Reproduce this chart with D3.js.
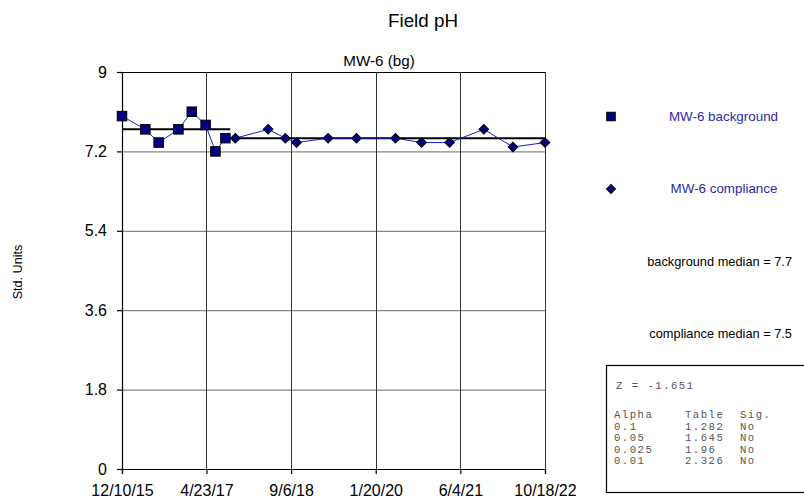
<!DOCTYPE html>
<html>
<head>
<meta charset="utf-8">
<script src="https://cdn.jsdelivr.net/npm/d3@7"></script>
<style>
  html, body { margin: 0; padding: 0; background: #fff; }
  svg { display: block; font-family: "Liberation Sans", Arial, sans-serif; }
</style>
</head>
<body>
<svg id="chart" width="804" height="501"></svg>
<script>
// Field pH at MW-6: background and compliance sampling events
const bgDates = ["2015-12-10", "2016-04-26", "2016-07-14", "2016-11-08", "2017-01-26", "2017-04-18", "2017-06-15", "2017-08-13"];
const bgValues = [8.0, 7.7, 7.4, 7.7, 8.1, 7.8, 7.2, 7.5];
const compDates = ["2017-10-11", "2018-04-23", "2018-08-03", "2018-10-08", "2019-04-13", "2019-09-28", "2020-05-16", "2020-10-17", "2021-04-01", "2021-10-21", "2022-04-11", "2022-10-18"];
const compValues = [7.5, 7.7, 7.5, 7.4, 7.5, 7.5, 7.5, 7.4, 7.4, 7.7, 7.3, 7.4];
const bgMedian = 7.7;
const compMedian = 7.5;
const medianBreak = "2017-09-11";
const xTickDates = ["2015-12-10", "2017-04-23", "2018-09-06", "2020-01-20", "2021-06-04", "2022-10-18"];
const yTicks = [0, 1.8, 3.6, 5.4, 7.2, 9];
const statsZ = "Z = -1.651";
const statsHeader = ["Alpha", "Table", "Sig."];
const statsAlpha = ["0.1", "0.05", "0.025", "0.01"];
const statsTable = ["1.282", "1.645", "1.96", "2.326"];
const statsSig = ["No", "No", "No", "No"];

const parse = d3.utcParse("%Y-%m-%d");
const fmt = d3.utcFormat("%-m/%-d/%y");
const svg = d3.select("#chart");

const x = d3.scaleUtc()
  .domain([parse(xTickDates[0]), parse(xTickDates[xTickDates.length - 1])])
  .range([122, 545]);
const y = d3.scaleLinear().domain([0, 9]).range([469, 72]);

const bg = bgDates.map((d, i) => ({ date: parse(d), value: bgValues[i] }));
const comp = compDates.map((d, i) => ({ date: parse(d), value: compValues[i] }));

// titles
svg.append("text").attr("x", 423).attr("y", 27).attr("text-anchor", "middle")
  .attr("font-size", 18.8).text("Field pH");
svg.append("text").attr("x", 379).attr("y", 66).attr("text-anchor", "middle")
  .attr("font-size", 15.2).text("MW-6 (bg)");
svg.append("text").attr("transform", "translate(22,272) rotate(-90)")
  .attr("text-anchor", "middle").attr("font-size", 12.6).text("Std. Units");

// grid
const grid = svg.append("g");
grid.selectAll(".hg").data(yTicks.filter(v => v > 0)).join("line")
  .attr("x1", x.range()[0]).attr("x2", x.range()[1])
  .attr("y1", d => y(d) + 0.5).attr("y2", d => y(d) + 0.5)
  .attr("stroke", d => d === 9 ? "#000" : "#6a6a6a").attr("stroke-width", 1);
grid.selectAll(".vg").data(xTickDates.slice(1)).join("line")
  .attr("x1", d => Math.round(x(parse(d))) + 0.5).attr("x2", d => Math.round(x(parse(d))) + 0.5)
  .attr("y1", y(9)).attr("y2", y(0))
  .attr("stroke", "#333").attr("stroke-width", 1);

// axes
const xAxis = d3.axisBottom(x).tickValues(xTickDates.map(parse)).tickFormat(fmt).tickSizeOuter(0).tickSize(5);
const yAxis = d3.axisLeft(y).tickValues(yTicks).tickFormat(d3.format("")).tickSizeOuter(0).tickSize(5);
const gx = svg.append("g").attr("transform", `translate(0,${y(0)})`).call(xAxis);
gx.selectAll("text").attr("font-size", 16).attr("fill", "#000").attr("dy", "1.19em")
  .attr("font-family", "Liberation Sans, Arial, sans-serif");
const gy = svg.append("g").attr("transform", `translate(${x.range()[0]},0)`).call(yAxis);
gy.selectAll("text").attr("font-size", 16).attr("fill", "#000").attr("x", -15)
  .attr("font-family", "Liberation Sans, Arial, sans-serif");
svg.selectAll(".domain, .tick line").attr("stroke", "#000").attr("stroke-width", 1.2);

// median lines
svg.append("line")
  .attr("x1", x(bg[0].date)).attr("x2", x(parse(medianBreak)))
  .attr("y1", y(bgMedian)).attr("y2", y(bgMedian))
  .attr("stroke", "#000").attr("stroke-width", 2);
svg.append("line")
  .attr("x1", x(parse(medianBreak))).attr("x2", x(comp[comp.length - 1].date))
  .attr("y1", y(compMedian)).attr("y2", y(compMedian))
  .attr("stroke", "#000").attr("stroke-width", 2);

// series lines
const line = d3.line().x(d => x(d.date)).y(d => y(d.value));
svg.append("path").datum(bg).attr("d", line)
  .attr("fill", "none").attr("stroke", "#1a1acc").attr("stroke-width", 1);
svg.append("path").datum([bg[bg.length - 1], ...comp]).attr("d", line)
  .attr("fill", "none").attr("stroke", "#1a1acc").attr("stroke-width", 1);

// markers
const sq = 9.5;
svg.selectAll(".bgm").data(bg).join("rect")
  .attr("x", d => x(d.date) - sq / 2).attr("y", d => y(d.value) - sq / 2)
  .attr("width", sq).attr("height", sq)
  .attr("fill", "#000080").attr("stroke", "#000").attr("stroke-width", 1);
svg.selectAll(".cm").data(comp).join("path")
  .attr("transform", d => `translate(${x(d.date)},${y(d.value)}) rotate(45)`)
  .attr("d", d3.symbol().type(d3.symbolSquare).size(46))
  .attr("fill", "#000080").attr("stroke", "#000").attr("stroke-width", 1);

// legend
const lg = svg.append("g");
lg.append("rect").attr("x", 611 - sq / 2 + 0.5).attr("y", 117 - sq / 2).attr("width", sq - 1).attr("height", sq - 1)
  .attr("fill", "#000080").attr("stroke", "#000");
lg.append("text").attr("x", 723.5).attr("y", 121).attr("text-anchor", "middle")
  .attr("font-size", 13.4).attr("fill", "#2a2aa8").text("MW-6 background");
lg.append("path").attr("transform", "translate(611,189) rotate(45)")
  .attr("d", d3.symbol().type(d3.symbolSquare).size(40))
  .attr("fill", "#000080").attr("stroke", "#000");
lg.append("text").attr("x", 724).attr("y", 193).attr("text-anchor", "middle")
  .attr("font-size", 13.4).attr("fill", "#2a2aa8").text("MW-6 compliance");
lg.append("text").attr("x", 792).attr("y", 266).attr("text-anchor", "end")
  .attr("font-size", 12.8).text(`background median = ${bgMedian}`);
lg.append("text").attr("x", 792).attr("y", 338).attr("text-anchor", "end")
  .attr("font-size", 12.8).text(`compliance median = ${compMedian}`);

// statistics box (monospaced, tight rows)
const sb = svg.append("g").attr("font-family", "Liberation Mono, Courier New, monospace")
  .attr("font-size", 10.6).attr("letter-spacing", 1.5).attr("fill", "#555");
sb.append("rect").attr("x", 606.5).attr("y", 365.5).attr("width", 220).attr("height", 127)
  .attr("fill", "#fff").attr("stroke", "#000").attr("stroke-width", 1.2);
sb.append("text").attr("x", 616).attr("y", 389).text(statsZ);
const cols = [614, 685, 740];
statsHeader.forEach((h, i) => sb.append("text").attr("x", cols[i]).attr("y", 418).text(h));
statsAlpha.forEach((a, r) => {
  const yy = 429.5 + r * 11.5;
  sb.append("text").attr("x", cols[0]).attr("y", yy).text(a);
  sb.append("text").attr("x", cols[1]).attr("y", yy).text(statsTable[r]);
  sb.append("text").attr("x", cols[2]).attr("y", yy).text(statsSig[r]);
});
</script>
</body>
</html>
